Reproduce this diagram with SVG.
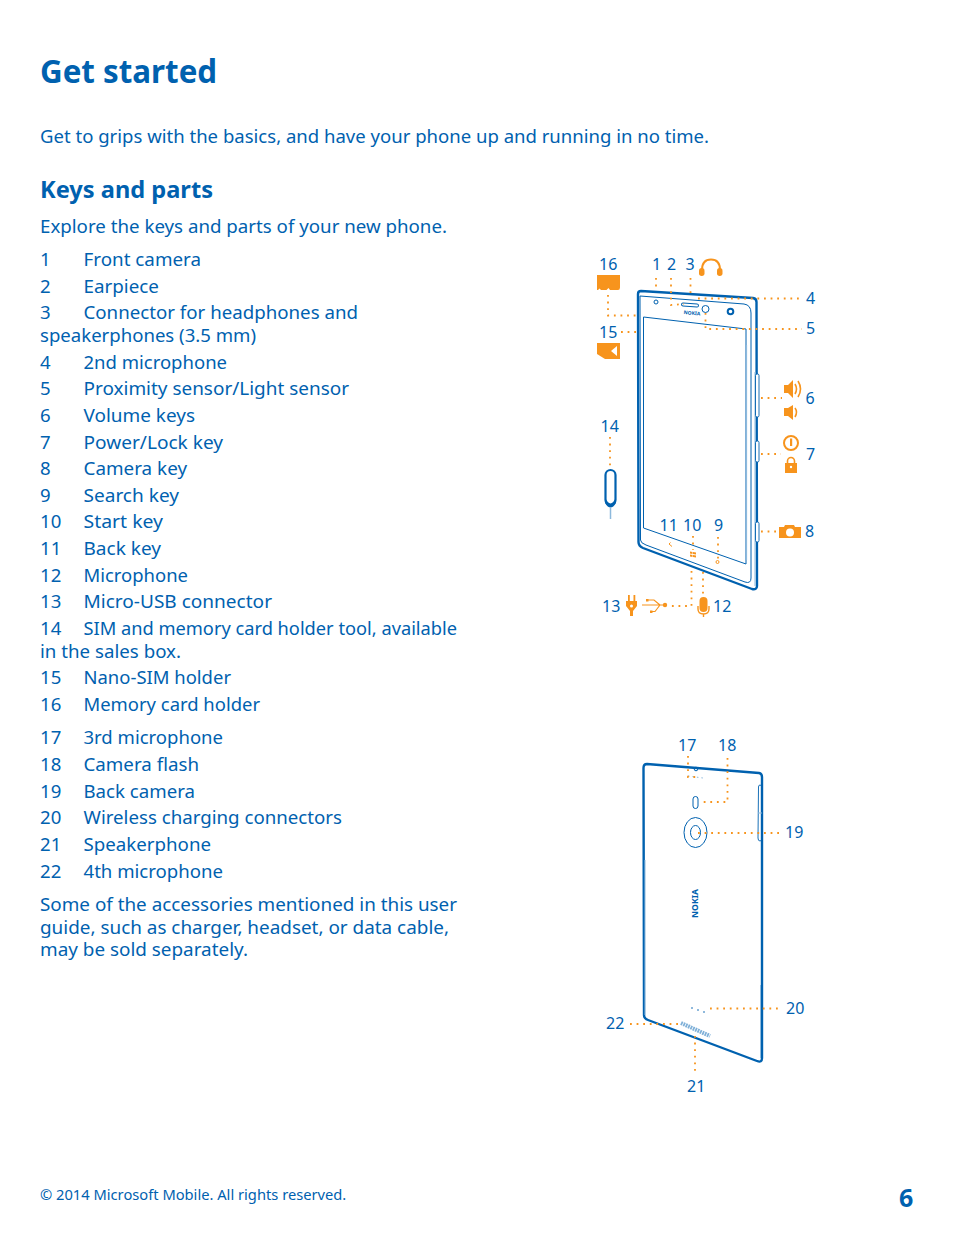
<svg xmlns="http://www.w3.org/2000/svg" width="954" height="1257" viewBox="0 0 954 1257">
<style>
text{font-family:"Noto Sans","Open Sans","Liberation Sans",sans-serif;fill:#0061AF}
.b{font-size:18.6px}
.n{font-size:16px}
.t{font-size:31.300px;font-weight:700}
.h{font-size:23.600px;font-weight:700}
.thick{fill:none;stroke:#0061AF;stroke-width:2.400;stroke-linejoin:round}
.thin{fill:none;stroke:#0061AF;stroke-width:1}
.light{fill:none;stroke:#8DB9DC;stroke-width:1}
.dot{fill:none;stroke:#F7941D;stroke-width:1.800;stroke-dasharray:1.800 4.800}
.o{fill:#F7941D}
.ol{fill:none;stroke:#F7941D;stroke-width:1.600}
</style>
<rect width="954" height="1257" fill="#fff"/>
<g id="page-text">
<text class="t" x="40" y="83">Get started</text>
<text class="b" x="40" y="143" textLength="669" lengthAdjust="spacingAndGlyphs">Get to grips with the basics, and have your phone up and running in no time.</text>
<text class="h" x="40" y="198" textLength="173" lengthAdjust="spacingAndGlyphs">Keys and parts</text>
<text class="b" x="40" y="233" textLength="407" lengthAdjust="spacingAndGlyphs">Explore the keys and parts of your new phone.</text>
<text class="b" x="40" y="266">1</text><text class="b" x="83.500" y="266" textLength="117.500" lengthAdjust="spacingAndGlyphs">Front camera</text>
<text class="b" x="40" y="293">2</text><text class="b" x="83.500" y="293" textLength="75.500" lengthAdjust="spacingAndGlyphs">Earpiece</text>
<text class="b" x="40" y="319">3</text><text class="b" x="83.500" y="319" textLength="274.500" lengthAdjust="spacingAndGlyphs">Connector for headphones and</text>
<text class="b" x="40" y="342" textLength="216" lengthAdjust="spacingAndGlyphs">speakerphones (3.5 mm)</text>
<text class="b" x="40" y="369">4</text><text class="b" x="83.500" y="369" textLength="143.500" lengthAdjust="spacingAndGlyphs">2nd microphone</text>
<text class="b" x="40" y="395">5</text><text class="b" x="83.500" y="395" textLength="265.500" lengthAdjust="spacingAndGlyphs">Proximity sensor/Light sensor</text>
<text class="b" x="40" y="422">6</text><text class="b" x="83.500" y="422" textLength="111.500" lengthAdjust="spacingAndGlyphs">Volume keys</text>
<text class="b" x="40" y="449">7</text><text class="b" x="83.500" y="449" textLength="139.500" lengthAdjust="spacingAndGlyphs">Power/Lock key</text>
<text class="b" x="40" y="475">8</text><text class="b" x="83.500" y="475" textLength="103.500" lengthAdjust="spacingAndGlyphs">Camera key</text>
<text class="b" x="40" y="502">9</text><text class="b" x="83.500" y="502" textLength="95.500" lengthAdjust="spacingAndGlyphs">Search key</text>
<text class="b" x="40" y="528">10</text><text class="b" x="83.500" y="528" textLength="79.500" lengthAdjust="spacingAndGlyphs">Start key</text>
<text class="b" x="40" y="555">11</text><text class="b" x="83.500" y="555" textLength="77.500" lengthAdjust="spacingAndGlyphs">Back key</text>
<text class="b" x="40" y="582">12</text><text class="b" x="83.500" y="582" textLength="104.500" lengthAdjust="spacingAndGlyphs">Microphone</text>
<text class="b" x="40" y="608">13</text><text class="b" x="83.500" y="608" textLength="188.500" lengthAdjust="spacingAndGlyphs">Micro-USB connector</text>
<text class="b" x="40" y="635">14</text><text class="b" x="83.500" y="635" textLength="373.500" lengthAdjust="spacingAndGlyphs">SIM and memory card holder tool, available</text>
<text class="b" x="40" y="658" textLength="141" lengthAdjust="spacingAndGlyphs">in the sales box.</text>
<text class="b" x="40" y="684">15</text><text class="b" x="83.500" y="684" textLength="147.500" lengthAdjust="spacingAndGlyphs">Nano-SIM holder</text>
<text class="b" x="40" y="711">16</text><text class="b" x="83.500" y="711" textLength="176.500" lengthAdjust="spacingAndGlyphs">Memory card holder</text>
<text class="b" x="40" y="744">17</text><text class="b" x="83.500" y="744" textLength="139.500" lengthAdjust="spacingAndGlyphs">3rd microphone</text>
<text class="b" x="40" y="771">18</text><text class="b" x="83.500" y="771" textLength="115.500" lengthAdjust="spacingAndGlyphs">Camera flash</text>
<text class="b" x="40" y="798">19</text><text class="b" x="83.500" y="798" textLength="111.500" lengthAdjust="spacingAndGlyphs">Back camera</text>
<text class="b" x="40" y="824">20</text><text class="b" x="83.500" y="824" textLength="258.500" lengthAdjust="spacingAndGlyphs">Wireless charging connectors</text>
<text class="b" x="40" y="851">21</text><text class="b" x="83.500" y="851" textLength="127.500" lengthAdjust="spacingAndGlyphs">Speakerphone</text>
<text class="b" x="40" y="878">22</text><text class="b" x="83.500" y="878" textLength="139.500" lengthAdjust="spacingAndGlyphs">4th microphone</text>
<text class="b" x="40" y="911" textLength="417" lengthAdjust="spacingAndGlyphs">Some of the accessories mentioned in this user</text>
<text class="b" x="40" y="934" textLength="409" lengthAdjust="spacingAndGlyphs">guide, such as charger, headset, or data cable,</text>
<text class="b" x="40" y="956" textLength="208" lengthAdjust="spacingAndGlyphs">may be sold separately.</text>
<text x="40" y="1200" style="font-size:14.700px">© 2014 Microsoft Mobile. All rights reserved.</text>
<text x="899" y="1207" style="font-size:25px;font-weight:700">6</text>
</g>
<g id="front-phone">
<path class="thick" d="M638 294Q638 291 641 291L753 298Q756.500 298.500 756.500 302L757 586Q757 590 752 589L643 548Q638.500 546 638.500 542Z"/>
<path class="thin" d="M640 296L744 304Q751 305 751 313L751 578Q751 584 745 582L646 545Q640.500 543 640.500 540Z"/>
<path class="light" d="M755 372V586"/>
<path class="thin" d="M643.500 317L746 329L746 564L643.500 528Z"/>
<path d="M746.500 345V560" stroke="#8DB9DC" stroke-width="1.200" fill="none"/>
<circle class="thin" cx="656" cy="302" r="2"/>
<rect class="thin" x="681.500" y="303.500" width="17" height="3" rx="1.500" transform="rotate(5 690 305)"/>
<circle class="thin" cx="705.500" cy="309" r="3.500"/>
<circle class="thick" cx="730.500" cy="311.500" r="2.800" style="stroke-width:2"/>
<text x="683.500" y="314" transform="rotate(5 683 314)" style="font-size:5px;font-weight:700">NOKIA</text>
<rect x="755.500" y="374" width="3.500" height="43" rx="1.500" fill="#fff" stroke="#0061AF" stroke-width="0.900"/>
<rect x="755.500" y="441" width="3.500" height="21" rx="1.500" fill="#fff" stroke="#0061AF" stroke-width="0.900"/>
<rect x="755.500" y="522" width="3.500" height="20" rx="1.500" fill="#fff" stroke="#0061AF" stroke-width="0.900"/>
<path d="M669 544l1.500-1.500M669 544l3 2.500" fill="none" stroke="#F7941D" stroke-width="1"/>
<path class="o" d="M690 551.500l2.500 .4v2l-2.500-.4zM693 552l3 .5v2l-3-.5zM690 554.500l2.500 .4v2l-2.500-.4zM693 555l3 .5v2l-3-.5z"/>
<circle class="ol" style="stroke-width:1" cx="717.500" cy="562" r="1.500"/>
</g>
<g id="tool-14">
<path d="M610.500 508V519" stroke="#8DB9DC" stroke-width="1.500" fill="none"/>
<path d="M605.500 475A5 5 0 0 1 615.500 475V500A5 5 0 0 1 605.500 500Z" fill="none" stroke="#0061AF" stroke-width="2.200"/>
<path d="M605 497Q610.500 510 616 497V503Q610.500 512 605 503Z" fill="#0061AF"/>
</g>
<g id="icons">
<path class="o" d="M597 275H620V287.500Q620 290 618 290H610L608.500 288L606.500 290H601L599.500 288.500L598 290H597Z"/>
<path class="o" d="M597 343H620V359H605L597 354Z"/>
<path d="M617 346L611 351L617 356Z" fill="#fff"/>
<path d="M702 270Q702 259.500 711 259.500Q720 259.500 720 270" fill="none" stroke="#F7941D" stroke-width="2"/>
<rect class="o" x="699" y="268" width="5.500" height="8" rx="2.700"/>
<rect class="o" x="717" y="268" width="5.500" height="8" rx="2.700"/>
<path class="o" d="M784 385H788L793 380V398L788 393H784Z"/>
<path class="ol" d="M795 384Q798 389 795 394M798 381Q803 389 798 397"/>
<path class="o" d="M784 408H788L793 405V420L788 416H784Z"/>
<path class="ol" d="M795 408Q798 412 795 417"/>
<circle cx="791" cy="443" r="7" fill="none" stroke="#F7941D" stroke-width="2"/>
<rect class="o" x="790" y="438.500" width="2.200" height="7.500"/>
<path d="M787.500 463V461A3.500 3.500 0 0 1 794.500 461V463" fill="none" stroke="#F7941D" stroke-width="1.600"/>
<rect class="o" x="785" y="463" width="12" height="10"/>
<circle cx="791" cy="467" r="1.200" fill="#fff"/>
<path class="o" d="M779 527H784L785 525H794L795 527H801V538H779Z"/>
<circle cx="790" cy="532.500" r="4" fill="#fff"/>
<path class="o" d="M626 601H637V606L633 611V616H630V611L626 606Z"/>
<path class="o" d="M628 595h1.800v6H628zM633.500 595h1.800v6h-1.800z"/>
<circle cx="631.500" cy="606" r="1.500" fill="#fff"/>
<path d="M642 605H665M647 600H654L660 605M651 611.500H655L660 605" fill="none" stroke="#F7941D" stroke-width="1.200"/>
<circle class="o" cx="665" cy="605" r="2.200"/>
<rect class="o" x="646" y="599" width="2.500" height="2.500"/>
<rect class="o" x="650" y="610.500" width="2.500" height="2.500"/>
<rect class="o" x="699.500" y="597" width="8" height="15" rx="4"/>
<path d="M698 606V609Q698 614 703.500 614Q709 614 709 609V606M703.500 614V617" fill="none" stroke="#F7941D" stroke-width="1.400"/>
</g>
<g id="back-phone">
<path class="thick" d="M643.500 768Q643.500 764 647 764L759 773Q762 773.500 762 777L762 1058Q762 1063 757 1061L648 1020Q644 1018.500 644 1015Z"/>
<path class="light" d="M645 860V1015"/>
<path class="light" d="M760.500 985V1058"/>
<path d="M758.500 787Q758.500 785 760 785L762 786V840L760 841Q758 841 758 838Z" fill="none" stroke="#0061AF" stroke-width="0.900"/>
<path class="light" d="M758 813H762"/>
<rect class="thin" x="693" y="796.500" width="5" height="12" rx="2.500"/>
<ellipse class="thin" cx="695.500" cy="832.500" rx="11.500" ry="15"/>
<ellipse class="thin" cx="695.500" cy="832.500" rx="5" ry="7"/>
<text x="0" y="0" transform="translate(698,918) rotate(-90)" textLength="29" lengthAdjust="spacingAndGlyphs" style="font-size:8px;font-weight:700">NOKIA</text>
<circle cx="696" cy="769" r="1.800" class="thin"/>
<path class="light" d="M688 776L703 778" stroke-dasharray="1.500 3"/>
<circle cx="692" cy="1008" r="0.800" fill="#0061AF"/><circle cx="698" cy="1010" r="0.800" fill="#0061AF"/><circle cx="704" cy="1012" r="0.800" fill="#0061AF"/>
<path d="M681 1023L710 1036" stroke="#7FB0D8" stroke-width="4" stroke-dasharray="1.800 0.800" fill="none"/>
</g>
<g id="connectors">
<path class="dot" d="M656 278V291"/>
<path class="dot" d="M671 278V305L684 304"/>
<path class="dot" d="M690.500 278V293"/>
<path class="dot" d="M698 298.500H802"/>
<path class="dot" d="M705.500 313V329H802"/>
<path class="dot" d="M608 295V315.500H636"/>
<path class="dot" d="M621 332H636"/>
<path class="dot" d="M610 437V466"/>
<path class="dot" d="M761 398H782"/>
<path class="dot" d="M761 454H781"/>
<path class="dot" d="M761 531.500H776"/>
<path class="dot" d="M693 536V550"/>
<path class="dot" d="M718 537V560"/>
<path class="dot" d="M691.500 571V606H669"/>
<path class="dot" d="M703 572V594"/>
<path class="dot" d="M688 756V777L696 777"/>
<path class="dot" d="M727.500 758V802H701"/>
<path class="dot" d="M698 833H782"/>
<path class="dot" d="M710 1008.500H782"/>
<path class="dot" d="M630 1024H681"/>
<path class="dot" d="M695 1036V1075"/>
</g>
<g id="labels">
<text class="n" x="599" y="270">16</text>
<text class="n" x="652" y="270">1</text>
<text class="n" x="667" y="270">2</text>
<text class="n" x="685.500" y="270">3</text>
<text class="n" x="806" y="304">4</text>
<text class="n" x="806" y="334">5</text>
<text class="n" x="599" y="338">15</text>
<text class="n" x="805.500" y="404">6</text>
<text class="n" x="806" y="460">7</text>
<text class="n" x="805" y="537">8</text>
<text class="n" x="600.500" y="432">14</text>
<text class="n" x="659.500" y="531">11</text>
<text class="n" x="683" y="531">10</text>
<text class="n" x="714" y="531">9</text>
<text class="n" x="602" y="612">13</text>
<text class="n" x="713" y="612">12</text>
<text class="n" x="678" y="751">17</text>
<text class="n" x="718" y="751">18</text>
<text class="n" x="785" y="838">19</text>
<text class="n" x="786" y="1014">20</text>
<text class="n" x="606" y="1029">22</text>
<text class="n" x="687" y="1092">21</text>
</g>
</svg>
